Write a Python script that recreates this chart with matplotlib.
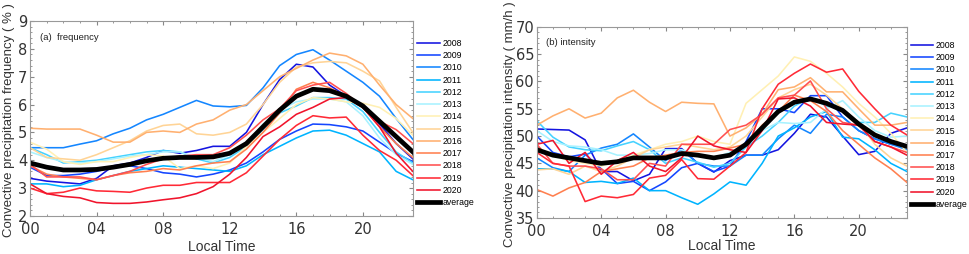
import numpy as np
import matplotlib
matplotlib.use('Agg')
import matplotlib.pyplot as plt
from matplotlib.ticker import MultipleLocator

hours = np.arange(24)
years = ['2008', '2009', '2010', '2011', '2012', '2013', '2014',
         '2015', '2016', '2017', '2018', '2019', '2020']
colors = ['#1414e0', '#1446ff', '#1486ff', '#00b4ff', '#46d2ff', '#a8f2ff', '#fff0b4',
          '#ffd496', '#ffb070', '#ff8050', '#ff5050', '#ff2a36', '#f0142c']

# (a) convective precipitation frequency (%)
freq = {
    '2008': [3.35, 3.25, 3.2, 3.15, 3.35, 3.8, 3.9, 4.1, 4.35, 4.25, 4.35, 4.5,
             4.5, 5.0, 6.0, 6.9, 7.45, 7.35, 6.7, 6.3, 5.9, 5.3, 4.6, 4.05],
    '2009': [3.75, 3.45, 3.45, 3.5, 3.6, 3.75, 3.8, 3.7, 3.55, 3.5, 3.4, 3.5,
             3.65, 3.9, 4.3, 4.75, 5.05, 5.3, 5.28, 5.2, 5.05, 4.65, 4.25, 3.95],
    '2010': [4.45, 4.45, 4.45, 4.58, 4.7, 4.95, 5.15, 5.45, 5.65, 5.9, 6.15, 5.95,
             5.92, 5.97, 6.6, 7.4, 7.8, 7.97, 7.6, 7.2, 6.8, 6.3, 5.5, 4.75],
    '2011': [3.15, 3.15, 3.05, 3.1, 3.3, 3.45, 3.6, 3.7, 3.8, 3.75, 3.7, 3.65,
             3.6, 3.8, 4.2, 4.5, 4.8, 5.05, 5.08, 4.9, 4.6, 4.3, 3.6, 3.3],
    '2012': [4.45, 4.2, 3.9, 3.95, 4.0, 4.1, 4.2, 4.3, 4.35, 4.3, 4.05, 3.9,
             4.1, 4.5, 5.1, 5.7, 5.95, 6.25, 6.25, 6.2, 5.75, 5.0, 4.3, 3.9],
    '2013': [4.3, 4.1, 3.95, 3.9, 3.95, 4.05, 4.15, 4.2, 4.3, 4.3, 4.1, 3.95,
             4.2, 4.6, 5.3, 5.8, 6.1, 6.2, 6.2, 6.1, 5.6, 4.8, 4.2, 3.85],
    '2014': [4.65, 4.4, 3.95, 3.85, 3.95, 3.95, 4.1, 4.2, 4.15, 3.7, 3.8, 3.7,
             3.9, 4.5, 5.0, 5.5, 6.0, 6.25, 6.2, 6.1, 6.05, 5.9, 5.5, 4.9],
    '2015': [4.45, 4.1, 4.05, 4.0, 4.2, 4.45, 4.7, 5.05, 5.25, 5.3, 4.95, 4.9,
             5.0, 5.3, 6.0, 6.8, 7.35, 7.5, 7.55, 7.5, 7.2, 6.85, 5.9, 5.0],
    '2016': [5.15, 5.12, 5.12, 5.12, 4.9, 4.65, 4.65, 5.0, 5.05, 5.0, 5.3, 5.45,
             5.8, 6.0, 6.5, 7.0, 7.3, 7.6, 7.85, 7.75, 7.45, 6.7, 6.0, 5.5],
    '2017': [3.8, 3.5, 3.4, 3.35, 3.3, 3.45, 3.55, 3.6, 3.7, 3.65, 3.8, 3.9,
             3.95, 4.4, 5.0, 5.7, 6.55, 6.8, 6.6, 6.3, 5.9, 5.2, 4.6, 4.1],
    '2018': [3.85, 3.4, 3.4, 3.4, 3.3, 3.45, 3.6, 3.85, 4.05, 4.15, 4.2, 4.2,
             4.45, 4.9, 5.45, 5.85, 6.5, 6.7, 6.8, 6.4, 5.9, 5.4, 5.1, 4.6],
    '2019': [3.0, 2.8, 2.85, 3.0, 2.9, 2.88, 2.85, 3.0, 3.1, 3.1, 3.2, 3.2,
             3.2, 3.55, 4.15, 4.75, 5.25, 5.6, 5.52, 5.55, 4.9, 4.35, 4.0, 3.45],
    '2020': [3.15, 2.8, 2.7, 2.65, 2.48, 2.45, 2.45, 2.5, 2.58, 2.65, 2.8, 3.05,
             3.5, 4.1, 4.85, 5.2, 5.65, 5.9, 6.2, 6.25, 5.9, 5.2, 4.25, 3.6],
}
freq_avg = [3.9, 3.75, 3.65, 3.65, 3.67, 3.75, 3.85, 3.98, 4.07, 4.1, 4.1, 4.12,
            4.25, 4.6, 5.2, 5.8, 6.3, 6.55, 6.5, 6.3, 5.95, 5.4, 4.85, 4.3]

# (b) convective precipitation intensity (mm/h)
inten = {
    '2008': [51.3, 51.2, 51.1, 49.3, 43.5, 43.5, 41.8, 43.0, 47.7, 47.7, 45.0, 43.4,
             45.5, 46.5, 46.5, 47.5, 50.5, 54.0, 53.5, 50.0, 46.6, 47.2, 50.5, 51.5],
    '2009': [50.0, 47.0, 46.2, 46.7, 44.0, 41.3, 41.7, 40.0, 41.6, 44.2, 45.0, 43.5,
             44.5, 49.0, 55.0, 55.0, 54.3, 57.4, 57.4, 53.5, 51.0, 49.5, 48.5, 48.0],
    '2010': [46.0, 44.2, 43.5, 46.5, 47.8, 48.5, 50.4, 48.0, 45.5, 47.5, 45.0, 44.5,
             44.5, 46.5, 46.5, 49.5, 52.0, 50.5, 54.0, 53.5, 51.0, 49.5, 48.5, 47.5],
    '2011': [44.0, 44.0, 43.5, 41.5, 41.7, 41.3, 42.3, 40.0, 40.0, 38.7, 37.5, 39.4,
             41.6, 41.0, 45.0, 50.0, 51.5, 53.5, 54.5, 49.8, 49.5, 47.5, 45.0, 43.5],
    '2012': [52.8, 49.8, 48.0, 47.5, 47.3, 48.2, 49.0, 47.5, 45.0, 46.0, 45.2, 44.3,
             45.0, 48.0, 50.0, 52.5, 55.5, 57.0, 55.5, 55.0, 52.5, 52.5, 54.2, 53.5],
    '2013': [51.0, 49.0, 48.2, 48.0, 47.5, 46.5, 46.5, 46.8, 47.5, 47.5, 46.5, 46.0,
             47.0, 48.5, 51.0, 52.5, 52.3, 52.5, 55.0, 56.5, 53.5, 51.0, 49.8, 50.0],
    '2014': [47.5, 46.5, 45.5, 45.0, 44.5, 45.5, 46.5, 47.5, 48.5, 49.0, 50.0, 49.0,
             48.5, 56.0, 58.5, 61.0, 64.5, 63.7, 61.5, 59.0, 56.0, 53.5, 50.5, 47.0],
    '2015': [43.8, 44.0, 43.0, 44.5, 43.5, 44.5, 46.0, 47.5, 48.0, 48.5, 48.0, 47.5,
             48.0, 50.0, 53.5, 57.0, 58.5, 59.5, 57.5, 55.0, 52.5, 48.5, 46.0, 44.5],
    '2016': [52.0, 53.7, 55.0, 53.3, 54.2, 57.0, 58.4, 56.2, 54.5, 56.2, 56.0, 55.9,
             50.0, 51.5, 54.0, 58.5, 59.0, 60.7, 58.1, 58.1, 55.0, 52.0, 52.0, 52.5],
    '2017': [40.2, 39.0, 40.5, 41.5, 43.5, 44.0, 44.5, 46.0, 46.5, 47.0, 47.2, 47.2,
             47.8, 48.5, 52.0, 54.5, 57.5, 56.5, 54.5, 51.0, 48.5, 46.0, 44.0, 41.5],
    '2018': [48.5, 45.0, 44.5, 44.5, 44.0, 42.0, 42.0, 45.0, 44.5, 48.5, 48.5, 48.5,
             51.2, 52.0, 54.0, 57.0, 57.5, 60.1, 55.0, 52.5, 52.0, 49.0, 48.0, 47.0],
    '2019': [47.0, 45.0, 44.5, 38.0, 39.0, 38.7, 39.3, 42.3, 42.8, 45.7, 42.2, 42.1,
             44.5, 47.0, 55.0, 59.5, 61.5, 63.2, 61.7, 62.3, 58.2, 55.0, 52.0, 50.2],
    '2020': [48.5, 49.2, 45.0, 47.0, 43.0, 45.5, 47.0, 44.5, 43.5, 46.0, 50.0, 48.2,
             47.5, 47.0, 51.0, 56.8, 57.0, 55.5, 52.5, 52.2, 52.0, 49.0, 48.0, 46.5],
}
inten_avg = [47.5, 46.5, 46.0, 45.5, 45.0, 45.3, 46.0, 46.0, 46.0, 46.8, 46.5, 46.0,
             46.5, 48.5, 51.5, 54.5, 56.2, 56.8, 56.0, 54.7, 52.2, 50.2, 49.0, 48.1]

xticks = [0, 4, 8, 12, 16, 20]
xticklabels = ['00', '04', '08', '12', '16', '20']

plt.rcParams['font.family'] = ['Liberation Sans', 'DejaVu Sans']

fig = plt.figure(figsize=(9.69, 2.54), dpi=100)
ax1 = fig.add_axes([0.031, 0.150, 0.395, 0.767])
ax2 = fig.add_axes([0.554, 0.142, 0.382, 0.752])


def draw(ax, data, avg, ylim, ymajor, yminor, ylabel, tag, ylab_x, xlab_y, leg_xy, hlen):
    for yr, c in zip(years, colors):
        ax.plot(hours, data[yr], color=c, lw=1.15, label=yr)
    ax.plot(hours, avg, color='black', lw=3.4, label='average')
    ax.set_xlim(0, 23)
    ax.set_ylim(*ylim)
    ax.set_xticks(xticks)
    ax.set_xticklabels(xticklabels)
    ax.xaxis.set_minor_locator(MultipleLocator(1))
    ax.yaxis.set_major_locator(MultipleLocator(ymajor))
    ax.yaxis.set_minor_locator(MultipleLocator(yminor))
    ax.tick_params(which='both', direction='in', top=True, right=True,
                   color='#888888', labelcolor='#333333', pad=2)
    ax.tick_params(axis='x', which='major', pad=4.5)
    ax.tick_params(which='major', length=3)
    ax.tick_params(which='minor', length=1.5)
    for lab in ax.get_xticklabels() + ax.get_yticklabels():
        lab.set_family('DejaVu Sans')
        lab.set_fontsize(10.5)
    for s in ax.spines.values():
        s.set_color('#999999')
        s.set_linewidth(0.8)
    ax.set_xlabel('Local Time', fontsize=10, color='#333333')
    ax.xaxis.set_label_coords(0.5, xlab_y)
    ax.xaxis.label.set_va('center')
    ax.set_ylabel(ylabel, fontsize=9.5, color='#333333')
    ax.yaxis.set_label_coords(ylab_x, 0.49)
    ax.yaxis.label.set_va('center')
    ax.text(0.026, 0.918, tag, transform=ax.transAxes, fontsize=6.8,
            color='#222222', va='center')
    ax.legend(loc='upper left', bbox_to_anchor=leg_xy, frameon=False,
              fontsize=6.3, handlelength=hlen, handletextpad=0.3, labelspacing=0.37,
              borderaxespad=0, borderpad=0)


draw(ax1, freq, freq_avg, (2, 9), 1, 0.2,
     'Convective precipitation frequency ( % )', '(a)  frequency', -0.055, -0.16,
     (1.0104, 0.908), 2.7)
draw(ax2, inten, inten_avg, (35, 70), 5, 1,
     'Convective precipitation intensity ( mm/h )', '(b) intensity', -0.073, -0.148,
     (1.011, 0.927), 2.5)

fig.savefig('out.png', dpi=100)
